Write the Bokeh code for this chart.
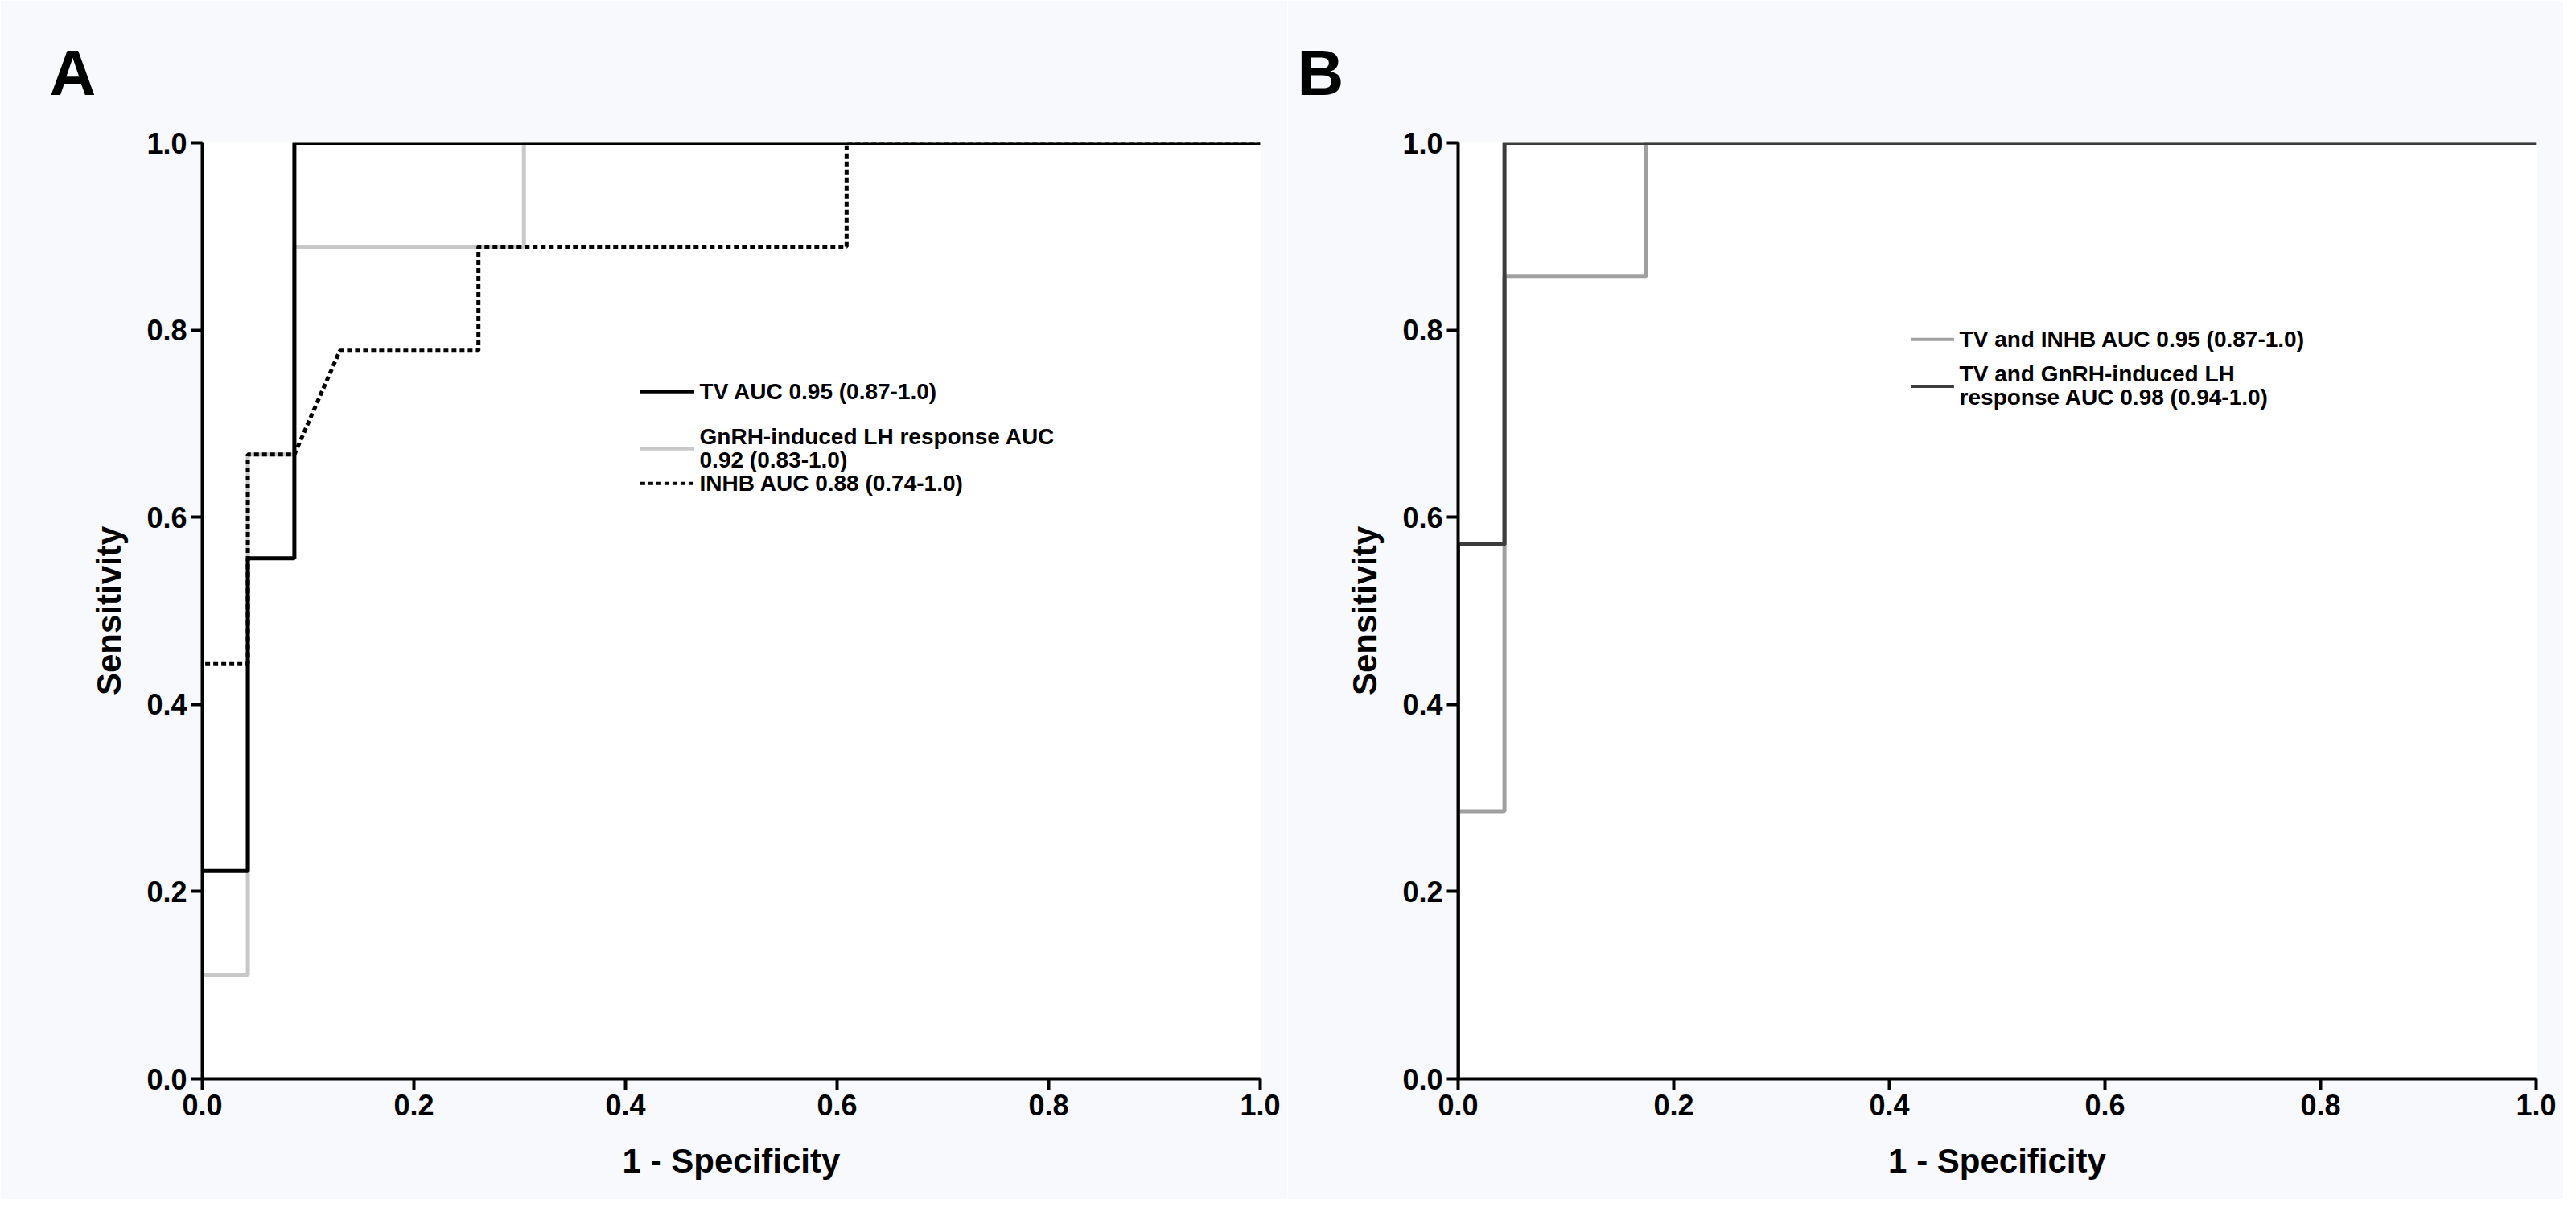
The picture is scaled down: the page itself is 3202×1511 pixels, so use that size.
from bokeh.plotting import figure
from bokeh.layouts import row
from bokeh.models import Range1d, FixedTicker, Title, PrintfTickFormatter
from bokeh.core.properties import value
from bokeh.embed import file_html
from bokeh.resources import INLINE

# Panel A ROC curves
tv_x = [0, 0, 0.043, 0.043, 0.087, 0.087, 1.0]
tv_y = [0.111, 0.222, 0.222, 0.556, 0.556, 1.0, 1.0]
gnrh_x = [0, 0.043, 0.043, 0.087, 0.087, 0.304, 0.304, 1.0]
gnrh_y = [0.111, 0.111, 0.667, 0.667, 0.889, 0.889, 1.0, 1.0]
inhb_x = [0, 0, 0.043, 0.043, 0.087, 0.13, 0.261, 0.261, 0.609, 0.609, 1.0]
inhb_y = [0, 0.444, 0.444, 0.667, 0.667, 0.778, 0.778, 0.889, 0.889, 1.0, 1.0]

# Panel B ROC curves
tvinhb_x = [0, 0.043, 0.043, 0.174, 0.174, 1.0]
tvinhb_y = [0.286, 0.286, 0.857, 0.857, 1.0, 1.0]
tvgnrh_x = [0, 0, 0.043, 0.043, 1.0]
tvgnrh_y = [0, 0.571, 0.571, 1.0, 1.0]

ticks = [0.0, 0.2, 0.4, 0.6, 0.8, 1.0]
FONT = "Liberation Sans"


def base(border_left, letter):
    p = figure(width=1600 if letter == "A" else 1586, height=1490,
               x_range=Range1d(0, 1.0), y_range=Range1d(0, 1.0),
               output_backend="svg", toolbar_location=None,
               min_border_left=border_left, min_border_right=34,
               min_border_top=40, min_border_bottom=150,
               x_axis_label="1 - Specificity", y_axis_label="Sensitivity")
    p.outline_line_color = None
    p.grid.visible = False
    p.border_fill_color = "#f7f9fc"
    for ax in (p.xaxis[0], p.yaxis[0]):
        ax.ticker = FixedTicker(ticks=ticks)
        ax.formatter = PrintfTickFormatter(format="%.1f")
        ax.minor_tick_line_color = None
        ax.axis_line_width = 4
        ax.major_tick_line_width = 4
        ax.major_tick_out = 14
        ax.major_tick_in = 0
        ax.major_label_text_font = FONT
        ax.major_label_text_font_style = "bold"
        ax.major_label_text_font_size = "36px"
        ax.major_label_text_color = "black"
        ax.axis_label_text_font = FONT
        ax.axis_label_text_font_style = "bold"
        ax.axis_label_text_font_size = "42px"
        ax.axis_label_text_color = "black"
    p.yaxis[0].axis_label_standoff = 20
    p.xaxis[0].axis_label_standoff = 30
    p.add_layout(Title(text=letter, text_font=FONT, text_font_style="bold",
                       text_font_size="80px", align="left", standoff=86,
                       text_color="black",
                       offset=-190 if letter == "A" else -200), "above")
    return p


def legend(p, x0, x1, xt, entries):
    for color, dash, ly, lines, ys in entries:
        p.line([x0, x1], [ly, ly], line_color=color, line_width=4, line_dash=dash)
        p.text([xt] * len(lines), ys, text=lines, text_font=value(FONT),
               text_font_style="bold", text_font_size="28px",
               text_baseline="middle")


pa = base(251, "A")
pa.line(gnrh_x, gnrh_y, line_color="#c8c8c8", line_width=5)
pa.line(inhb_x, inhb_y, line_color="black", line_width=5, line_dash="6 4")
pa.line(tv_x, tv_y, line_color="black", line_width=5)
legend(pa, 0.414, 0.465, 0.47, [
    ("black", "solid", 0.734, ["TV AUC 0.95 (0.87-1.0)"], [0.734]),
    ("#c8c8c8", "solid", 0.673, ["GnRH-induced LH response AUC", "0.92 (0.83-1.0)"], [0.686, 0.661]),
    ("black", "6 4", 0.636, ["INHB AUC 0.88 (0.74-1.0)"], [0.636]),
])

pb = base(212, "B")
pb.line(tvinhb_x, tvinhb_y, line_color="#a0a0a0", line_width=5)
pb.line(tvgnrh_x, tvgnrh_y, line_color="#3c3c3c", line_width=5)
legend(pb, 0.42, 0.46, 0.465, [
    ("#a0a0a0", "solid", 0.790, ["TV and INHB AUC 0.95 (0.87-1.0)"], [0.790]),
    ("#3c3c3c", "solid", 0.740, ["TV and GnRH-induced LH", "response AUC 0.98 (0.94-1.0)"], [0.753, 0.728]),
])

p = row(pa, pb)
open("out.html", "w").write(file_html(p, INLINE))
